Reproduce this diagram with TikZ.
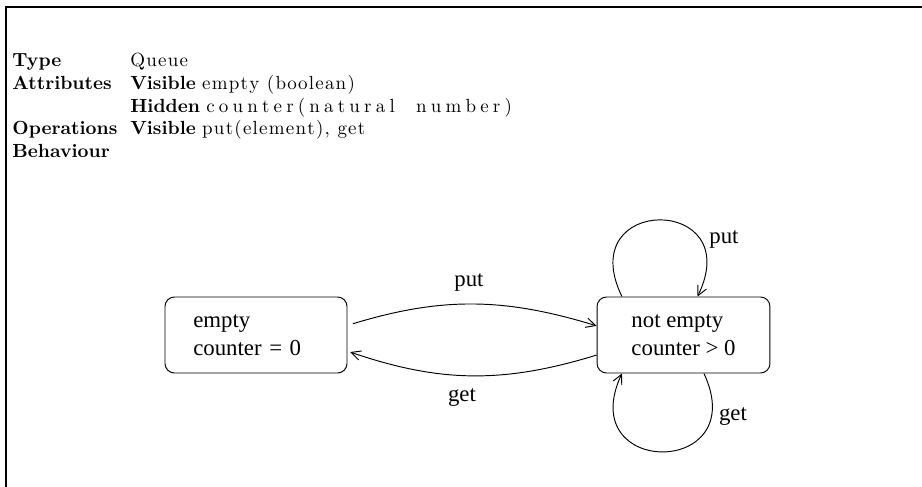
\documentclass[tikz,border=0pt]{standalone}
\usepackage{fontspec}
\newfontfamily\figfont{Liberation Serif}
\makeatletter
% spaced letters: \wide[kern]{word}
\newcommand\wide[2][0.65pt]{\def\wide@k{\kern#1}\wide@loop#2\@nil}
\def\wide@loop#1{\ifx#1\@nil\else#1\wide@k\expandafter\wide@loop\fi}
\makeatother
\usetikzlibrary{arrows.meta}

\begin{document}
\begin{tikzpicture}[x=0.5263pt,y=0.5263pt,
    state/.style={draw,line width=0.5pt,rounded corners=5pt,minimum height=40pt,
      align=left,font=\figfont\fontsize{12}{14.7}\selectfont},
    trans/.style={line width=0.5pt,-{Straight Barb[length=5pt,width=5pt]}},
    lab/.style={font=\figfont\fontsize{12}{14.7}\selectfont},
    spec/.style={anchor=base west,inner sep=0pt}]
  \useasboundingbox (0,0) rectangle (922,-487);
  \draw[line width=1pt] (6,-487) -- (6,-7) -- (922,-7);
  % specification
  \node[spec] (type) at (12,-67) {\textbf{Type}};
  \node[spec] (typeval) at (130,-67) {\wide{Queue}};
  \node[spec] (attr) at (12,-90) {\textbf{Attributes}};
  \node[spec] (attrvis) at (130,-90) {\textbf{Visible} \wide{empty}\ \wide{(boolean)}};
  \node[spec] (attrhid) at (130,-112.5) {\textbf{Hidden} \wide[2.2pt]{counter(natural}\hspace{9pt}\wide[2.2pt]{number)}};
  \node[spec] (oper) at (12,-135) {\textbf{Operations}};
  \node[spec] (opervis) at (130,-135) {\textbf{Visible} \wide{put(element),}\ \wide{get}};
  \node[spec] (behav) at (12,-157.5) {\textbf{Behaviour}};
  % states
  \node[state,minimum width=95.8pt,text width=66pt] (empty) at (256,-335) {empty\\counter = 0};
  \node[state,minimum width=91pt] (full) at (683.5,-335) {not empty\\counter > 0};
  % transitions
  \draw[trans,shorten <=3pt] (empty.6) to[bend left=17] (full.174.7);
  \draw[trans,shorten >=1.5pt] (full.193) to[bend left=18] (empty.350);
  \draw[trans] (full.148.7) to[out=116,in=64,looseness=3.85] (full.70.4);
  \draw[trans] (full.-62.2) to[out=-65,in=-115,looseness=3.6] (full.212.1);
  \node[lab] (putlab) at (469,-283) {put};
  \node[lab] (getlab) at (462,-398) {get};
  \node[lab] (putloop) at (724,-240) {put};
  \node[lab] (getloop) at (733,-417) {get};
\end{tikzpicture}
\end{document}
